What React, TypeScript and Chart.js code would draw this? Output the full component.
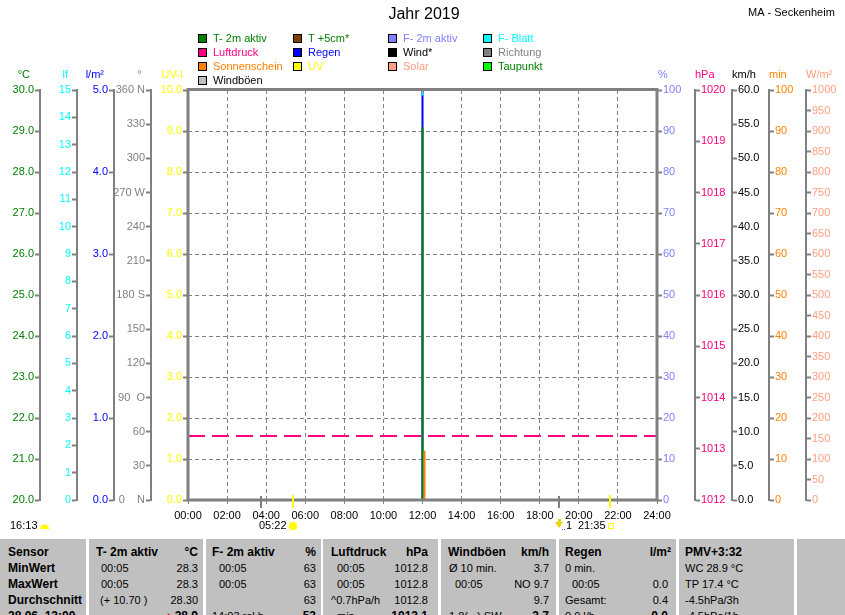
import React, { useEffect, useRef } from "react";
import { Chart, registerables } from "chart.js";

Chart.register(...registerables);

/* ---------------- data ---------------- */
const hourTicks = [0, 2, 4, 6, 8, 10, 12, 14, 16, 18, 20, 22, 24];
const hourLabels = ["00:00", "02:00", "04:00", "06:00", "08:00", "10:00", "12:00", "14:00", "16:00", "18:00", "20:00", "22:00", "24:00"];

const dayHours = [12.0, 12.0];
const t2mSpan = [20.0, 29.1]; // °C
const regenSpan = [0.0, 5.0]; // l/m²
const blattSpan = [14.8, 14.95]; // lf
const druckSpan = [1019.92, 1020.0]; // hPa
const sonneHours = [12.1, 12.1];
const sonneSpan = [0, 12]; // min
const druckRefHours = [0, 24];
const druckRefValues = [1013.25, 1013.25]; // hPa
const moonHours = [3.73, 18.98];
const sunHours = [5.37, 21.6];

const legendLabels = [
  "T- 2m aktiv", "T +5cm*", "F- 2m aktiv", "F- Blatt",
  "Luftdruck", "Regen", "Wind*", "Richtung",
  "Sonnenschein", "UV", "Solar", "Taupunkt",
  "Windböen",
];
const dirNames: Record<number, string> = { 0: "N", 90: "O", 180: "S", 270: "W", 360: "N" };

const sensorRows = ["Sensor", "MinWert", "MaxWert", "Durchschnitt", "28.06. 13:00"];
const t2mCol = { title: "T- 2m aktiv", unit: "°C", left: ["00:05", "00:05", "(+ 10.70 )", ""], right: ["28.3", "28.3", "28.30", "28.9"] };
const f2mCol = { title: "F- 2m aktiv", unit: "%", left: ["00:05", "00:05", "", "14:03 rel.h"], right: ["63", "63", "63", "53"] };
const druckCol = { title: "Luftdruck", unit: "hPa", left: ["00:05", "00:05", "^0.7hPa/h", "min"], right: ["1012.8", "1012.8", "1012.8", "1013.1"] };
const boeenCol = { title: "Windböen", unit: "km/h", left: ["Ø 10 min.", "00:05", "", "1.8(...) SW"], right: ["3.7", "NO 9.7", "9.7", "3.7"] };
const regenCol = { title: "Regen", unit: "l/m²", left: ["0 min.", "00:05", "Gesamt:", "0.0 l/h"], right: ["", "0.0", "0.4", "0.0"] };
const pmvCol = { title: "PMV+3:32", lines: ["WC 28.9 °C", "TP 17.4 °C", "-4.5hPa/3h", "-4.5hPa/1h"] };

const chartTitle = "Jahr 2019";
const stationName = "MA - Seckenheim";
const moonText = "16:13";
const sunriseText = "05:22";
const moonPhaseText = "1";
const sunsetText = "21:35";

/* ---------------- styles ---------------- */
const FAMILY = "Arial, 'Liberation Sans', sans-serif";
const BOLD_FAMILY = "Arial, 'Liberation Sans', sans-serif";
const FS = 11;
const TICK_FONT = { family: FAMILY, size: FS };
const GRAY = "#808080";

const legendSwatch = ["#008000", "#804000", "#8080ff", "#00ffff", "#ff0080", "#0000ff", "#000000", "#808080", "#ff8000", "#ffff00", "#ffa080", "#00ff00", "#c0c0c0"];
const legendText = ["#008000", "#008000", "#8080ff", "#00ffff", "#ff0080", "#0000ff", "#000000", "#808080", "#ff8000", "#ffff00", "#ffa080", "#008000", "#000000"];
const legendColX = [198, 293, 388, 483];
const legendRowY = [38, 52, 66, 80];

const f1 = (v: any) => Number(v).toFixed(1);
const fi = (v: any) => String(Math.round(Number(v)));
const fdir = (v: any) => {
  const n = Math.round(Number(v));
  if (n === 0) return "0    N";
  if (n === 90) return "90  O";
  return dirNames[n] ? `${n} ${dirNames[n]}` : String(n);
};

type AxisSpec = { id: string; pos: "left" | "right"; weight: number; width: number; min: number; max: number; step: number; color: string; title: string; titleOff: number; fmt: (v: any) => string; grid?: boolean; noBorder?: boolean };
const axisSpecs: AxisSpec[] = [
  { id: "yUV", pos: "left", weight: 0, width: 37, min: 0, max: 10, step: 1, color: "#ffff00", title: "UV-I", titleOff: 5, fmt: f1, grid: true, noBorder: true },
  { id: "yDir", pos: "left", weight: 1, width: 37, min: 0, max: 360, step: 30, color: "#808080", title: "°", titleOff: 9, fmt: fdir },
  { id: "yRain", pos: "left", weight: 2, width: 37, min: 0, max: 5, step: 1, color: "#0000ff", title: "l/m²", titleOff: 10, fmt: f1 },
  { id: "yLf", pos: "left", weight: 3, width: 37, min: 0, max: 15, step: 1, color: "#00ffff", title: "lf", titleOff: 9, fmt: fi },
  { id: "yT", pos: "left", weight: 4, width: 40, min: 20, max: 30, step: 1, color: "#008000", title: "°C", titleOff: 10, fmt: f1 },
  { id: "yPct", pos: "right", weight: 0, width: 38, min: 0, max: 100, step: 10, color: "#8080ff", title: "%", titleOff: 1, fmt: fi, noBorder: true },
  { id: "yP", pos: "right", weight: 1, width: 37, min: 1012, max: 1020, step: 1, color: "#ff0080", title: "hPa", titleOff: 0, fmt: fi },
  { id: "yKmh", pos: "right", weight: 2, width: 37, min: 0, max: 60, step: 5, color: "#000000", title: "km/h", titleOff: 0, fmt: f1 },
  { id: "yMin", pos: "right", weight: 3, width: 37, min: 0, max: 100, step: 10, color: "#ff8000", title: "min", titleOff: 0, fmt: fi },
  { id: "ySol", pos: "right", weight: 4, width: 39, min: 0, max: 1000, step: 50, color: "#ffa080", title: "W/m²", titleOff: 0, fmt: fi },
];

function buildScales() {
  const scales: any = {
    x: {
      type: "linear",
      position: "bottom",
      min: 0,
      max: 24,
      afterFit: (s: any) => { s.height = 38; },
      ticks: {
        stepSize: 2, color: "#000", font: TICK_FONT, padding: 5, autoSkip: false, maxRotation: 0, maxTicksLimit: 1000,
        callback: (v: any) => { const i = hourTicks.indexOf(Number(v)); return i >= 0 ? hourLabels[i] : ""; },
      },
      grid: { drawOnChartArea: true, color: GRAY, lineWidth: 1, tickLength: 4, tickColor: GRAY, tickWidth: 1 },
      border: { display: false, dash: [4, 3] },
    },
  };
  for (const a of axisSpecs) {
    scales[a.id] = {
      type: "linear",
      position: a.pos,
      weight: a.weight,
      min: a.min,
      max: a.max,
      afterFit: (s: any) => { s.width = a.width; },
      ticks: { stepSize: a.step, color: a.color, font: TICK_FONT, padding: 1, autoSkip: false, maxTicksLimit: 1000, callback: a.fmt },
      grid: { drawOnChartArea: !!a.grid, color: GRAY, lineWidth: 1, tickLength: 5, tickColor: GRAY, tickWidth: 2 },
      border: { display: !a.noBorder, color: GRAY, width: 2, dash: a.grid ? [4, 3] : [] },
    };
  }
  return scales;
}

const pts = (xs: number[], ys: number[]) => xs.map((x, i) => ({ x, y: ys[i] }));

const decorPlugin = {
  id: "decor",
  afterDatasetsDraw(chart: any) {
    const { ctx, chartArea: ca } = chart;
    ctx.save();
    ctx.strokeStyle = GRAY;
    ctx.lineWidth = 3;
    ctx.strokeRect(ca.left, ca.top - 0.5, ca.right - ca.left, ca.bottom - ca.top + 0.5);
    ctx.restore();
  },
  afterDraw(chart: any) {
    const { ctx, chartArea: ca } = chart;
    const font = `${FS}px ${FAMILY}`;
    ctx.save();
    // titles
    ctx.textBaseline = "middle";
    ctx.fillStyle = "#000";
    ctx.font = `16px ${BOLD_FAMILY}`;
    ctx.textAlign = "center";
    ctx.fillText(chartTitle, 424, 15);
    ctx.font = font;
    ctx.textAlign = "left";
    ctx.fillText(stationName, 748, 13);

    // legend
    legendLabels.forEach((lab, i) => {
      const x = legendColX[i % 4];
      const y = legendRowY[Math.floor(i / 4)];
      ctx.fillStyle = legendSwatch[i];
      ctx.fillRect(x, y - 4, 9, 9);
      ctx.strokeStyle = "#000";
      ctx.lineWidth = 1;
      ctx.strokeRect(x + 0.5, y - 3.5, 8, 8);
      ctx.fillStyle = legendText[i];
      ctx.font = font;
      ctx.textAlign = "left";
      ctx.fillText(lab, x + 15, y + 1);
    });

    // axis titles
    for (const a of axisSpecs) {
      const s = chart.scales[a.id];
      ctx.fillStyle = a.color;
      ctx.font = font;
      if (a.pos === "left") {
        ctx.textAlign = "right";
        ctx.fillText(a.title, s.right - a.titleOff, 75);
      } else {
        ctx.textAlign = "left";
        ctx.fillText(a.title, s.left + a.titleOff, 75);
      }
    }

    // markers on the time axis
    const xs = chart.scales.x;
    ctx.lineWidth = 2;
    ctx.strokeStyle = GRAY;
    for (const h of moonHours) {
      const px = Math.round(xs.getPixelForValue(h));
      ctx.beginPath(); ctx.moveTo(px, ca.bottom - 4); ctx.lineTo(px, ca.bottom + 8); ctx.stroke();
    }
    ctx.strokeStyle = "#ffff00";
    for (const h of sunHours) {
      const px = Math.round(xs.getPixelForValue(h));
      ctx.beginPath(); ctx.moveTo(px, ca.bottom - 5); ctx.lineTo(px, ca.bottom + 8); ctx.stroke();
    }

    // second info line
    const ty = 526;
    ctx.fillStyle = "#000";
    ctx.font = font;
    ctx.textAlign = "left";
    ctx.fillText(moonText, 10, ty);
    ctx.fillText(sunriseText, 259, ty);
    ctx.fillText(moonPhaseText, 566, ty);
    ctx.fillText(sunsetText, 578, ty);
    // moon/cloud icon
    ctx.fillStyle = "#ffff00";
    ctx.beginPath(); ctx.arc(44.5, 529, 4.5, Math.PI, 0); ctx.closePath(); ctx.fill();
    // sun icon
    const sx = Math.round(xs.getPixelForValue(sunHours[0]));
    ctx.strokeStyle = "#ffff99";
    ctx.lineWidth = 1;
    for (let k = 0; k < 8; k++) {
      const an = (k * Math.PI) / 4;
      ctx.beginPath();
      ctx.moveTo(sx + Math.cos(an) * 4, ty + Math.sin(an) * 4);
      ctx.lineTo(sx + Math.cos(an) * 6.5, ty + Math.sin(an) * 6.5);
      ctx.stroke();
    }
    ctx.fillStyle = "#ffff00";
    ctx.beginPath(); ctx.arc(sx, ty, 4, 0, Math.PI * 2); ctx.fill();
    // moonrise arrow
    const mx = Math.round(xs.getPixelForValue(moonHours[1]));
    ctx.fillStyle = "#e8d800";
    ctx.fillRect(mx - 1, 519, 3, 4);
    ctx.beginPath(); ctx.moveTo(mx - 4, 522); ctx.lineTo(mx + 4, 522); ctx.lineTo(mx, 528); ctx.closePath(); ctx.fill();
    ctx.fillStyle = "#4060ff";
    ctx.fillRect(mx + 3, 529, 1, 1); ctx.fillRect(mx + 5, 529, 1, 1);
    // sunset square
    const qx = Math.round(xs.getPixelForValue(sunHours[1]));
    ctx.strokeStyle = "#ffff00";
    ctx.lineWidth = 1;
    ctx.strokeRect(qx - 1.5, 523.5, 5, 5);
    ctx.restore();
  },
};

/* ---------------- table layout ---------------- */
const COLS = [[0, 86], [89, 203], [206, 321], [323, 438], [441, 556], [559, 676], [679, 794], [797, 845]];
const ROW_TOP = [5, 21, 37, 53, 69];
const dataCols = [
  { c: t2mCol, hx: 96, lx: [101, 101, 100, 101], rx: 198, hrx: 198 },
  { c: f2mCol, hx: 212, lx: [219, 219, 219, 212], rx: 316, hrx: 316 },
  { c: druckCol, hx: 331, lx: [337, 337, 331, 337], rx: 428, hrx: 428 },
  { c: boeenCol, hx: 448, lx: [449, 455, 449, 449], rx: 549, hrx: 549 },
  { c: regenCol, hx: 565, lx: [565, 572, 565, 565], rx: 668, hrx: 671 },
];

const regular = { fontFamily: FAMILY, fontSize: FS };
const bold = { fontFamily: BOLD_FAMILY, fontSize: 12, fontWeight: "bold" as const };

function T({ x, y, rx, b, children, color }: any) {
  const st: any = {
    position: "absolute", top: y, lineHeight: "16px", whiteSpace: "pre", color: color || "#000",
    ...(b ? bold : regular),
  };
  if (rx !== undefined) st.right = 845 - rx; else st.left = x;
  return <div style={st}>{children}</div>;
}

export default function App() {
  const ref = useRef<HTMLCanvasElement>(null);
  useEffect(() => {
    const base = { type: "line", showLine: true, fill: false, pointRadius: 0, borderWidth: 2 };
    const chart = new Chart(ref.current as HTMLCanvasElement, {
      type: "line",
      data: {
        datasets: [
          { ...base, label: "Sonnenschein", data: pts(sonneHours, sonneSpan), yAxisID: "yMin", borderColor: "#ff8000", order: 0 },
          { ...base, label: "T- 2m aktiv", data: pts(dayHours, t2mSpan), yAxisID: "yT", borderColor: "#008000", order: 1 },
          { ...base, label: "F- Blatt", data: pts(dayHours, blattSpan), yAxisID: "yLf", borderColor: "#00ffff", order: 2 },
          { ...base, label: "Luftdruck", data: pts(dayHours, druckSpan), yAxisID: "yP", borderColor: "#ff0080", order: 3 },
          { ...base, label: "Regen", data: pts(dayHours, regenSpan), yAxisID: "yRain", borderColor: "#0000ff", order: 4 },
          { ...base, label: "1013.25", data: pts(druckRefHours, druckRefValues), yAxisID: "yP", borderColor: "#ff0080", borderDash: [17, 7], order: 5 },
        ] as any,
      },
      options: {
        responsive: false,
        maintainAspectRatio: false,
        animation: false,
        devicePixelRatio: 1,
        events: [],
        layout: { padding: { top: 90, left: 0, right: 0, bottom: 0 } },
        plugins: { legend: { display: false }, title: { display: false }, tooltip: { enabled: false } },
        scales: buildScales(),
      } as any,
      plugins: [decorPlugin],
    });
    return () => chart.destroy();
  }, []);

  return (
    <div style={{ position: "absolute", left: 0, top: 0, width: 845, height: 615, overflow: "hidden", background: "#fff" }}>
      <canvas ref={ref} width={845} height={538} style={{ display: "block", width: 845, height: 538 }} />
      <div style={{ position: "absolute", left: 0, top: 539, width: 845, height: 90 }}>
        {COLS.map(([l, r], i) => (
          <div key={"c" + i} style={{ position: "absolute", left: l, top: 0, width: r - l, height: 90, background: "#c0c0c0" }} />
        ))}
        {sensorRows.map((s, i) => (
          <T key={"s" + i} x={8} y={ROW_TOP[i]} b>{s}</T>
        ))}
        {dataCols.map((d, ci) => (
          <React.Fragment key={"d" + ci}>
            <T x={d.hx} y={ROW_TOP[0]} b>{d.c.title}</T>
            <T rx={d.hrx} y={ROW_TOP[0]} b>{d.c.unit}</T>
            {d.c.left.map((t, ri) => (t ? <T key={"l" + ri} x={d.lx[ri]} y={ROW_TOP[ri + 1]}>{t}</T> : null))}
            {d.c.right.map((t, ri) => (t ? (
              <T key={"r" + ri} rx={d.rx} y={ROW_TOP[ri + 1]} b={ri === 3}>
                {ci === 0 && ri === 3 ? <span style={{ color: "#ff0000" }}>▲</span> : null}{t}
              </T>
            ) : null))}
          </React.Fragment>
        ))}
        <T x={685} y={ROW_TOP[0]} b>{pmvCol.title}</T>
        {pmvCol.lines.map((t, i) => (
          <T key={"p" + i} x={685} y={ROW_TOP[i + 1]}>{t}</T>
        ))}
      </div>
    </div>
  );
}
